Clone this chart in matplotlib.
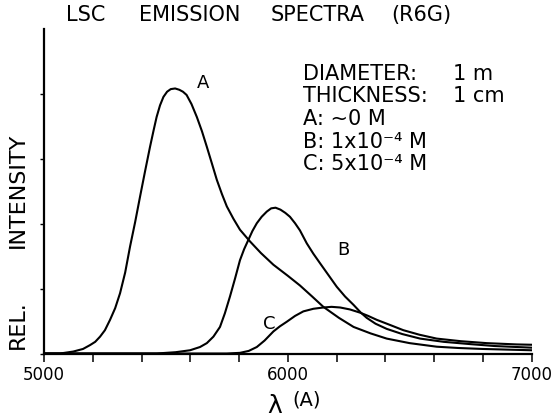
import matplotlib
matplotlib.use("Agg")
import matplotlib.pyplot as plt
from matplotlib.ticker import MultipleLocator

# wavelength (A) and relative intensity
lam_a = [5000, 5066, 5120, 5160, 5189, 5210, 5230, 5250, 5271, 5292, 5312, 5333,
         5353, 5374, 5394, 5415, 5435, 5450, 5462, 5476, 5490, 5505, 5520, 5538,
         5555, 5570, 5585, 5605, 5627, 5648, 5668, 5689, 5709, 5730, 5750, 5777,
         5804, 5845, 5890, 5941, 6000, 6050, 6100, 6146, 6210, 6270, 6340, 6406,
         6500, 6611, 6700, 6800, 6900, 7000]
int_a = [0.0, 0.0, 0.03, 0.07, 0.13, 0.18, 0.26, 0.36, 0.52, 0.70, 0.93, 1.25,
         1.65, 2.03, 2.42, 2.82, 3.19, 3.45, 3.65, 3.83, 3.96, 4.04, 4.08, 4.09,
         4.07, 4.04, 3.99, 3.85, 3.65, 3.43, 3.19, 2.93, 2.68, 2.46, 2.27, 2.08,
         1.91, 1.73, 1.55, 1.37, 1.20, 1.05, 0.88, 0.72, 0.55, 0.41, 0.31, 0.23,
         0.16, 0.105, 0.085, 0.07, 0.06, 0.05]

lam_b = [5000, 5462, 5540, 5599, 5640, 5668, 5695, 5722, 5742, 5763, 5784, 5804,
         5821, 5838, 5855, 5873, 5893, 5914, 5932, 5950, 5970, 5990, 6009, 6030,
         6050, 6078, 6105, 6133, 6167, 6201, 6235, 6270, 6300, 6324, 6360, 6406,
         6470, 6543, 6640, 6748, 6850, 6940, 7000]
int_b = [0.0, 0.0, 0.02, 0.05, 0.10, 0.16, 0.26, 0.41, 0.62, 0.88, 1.16, 1.44,
         1.61, 1.75, 1.89, 2.01, 2.11, 2.19, 2.24, 2.25, 2.22, 2.17, 2.11, 2.01,
         1.90, 1.70, 1.54, 1.39, 1.21, 1.03, 0.88, 0.75, 0.63, 0.55, 0.46, 0.38,
         0.30, 0.23, 0.18, 0.145, 0.115, 0.10, 0.09]

lam_c = [5000, 5750, 5804, 5840, 5873, 5905, 5941, 5968, 5996, 6030, 6064, 6105,
         6146, 6180, 6215, 6255, 6297, 6330, 6365, 6420, 6474, 6540, 6611, 6710,
         6816, 6940, 7000]
int_c = [0.0, 0.0, 0.01, 0.04, 0.10, 0.20, 0.34, 0.42, 0.49, 0.58, 0.65, 0.69,
         0.71, 0.72, 0.71, 0.68, 0.63, 0.58, 0.52, 0.44, 0.36, 0.29, 0.23, 0.19,
         0.16, 0.14, 0.135]

x_ticks = [5000, 6000, 7000]
x_labels = ["5000", "6000", "7000"]
y_ticks = [0, 1, 2, 3, 4]

W, H = 556, 417


def fx(px):
    return px / W


def fy(py):
    return 1 - py / H


fig = plt.figure(figsize=(W / 100, H / 100), dpi=100)
ax = fig.add_axes([fx(44), fy(353.5), (531.5 - 44) / W, (353.5 - 29.5) / H])

for lam, inten in [(lam_a, int_a), (lam_b, int_b), (lam_c, int_c)]:
    ax.plot(lam, inten, color="black", lw=1.5, solid_joinstyle="round")

ax.set_xlim(5000, 7000)
ax.set_ylim(0, 5)
ax.spines["top"].set_visible(False)
ax.spines["right"].set_visible(False)
ax.spines["left"].set_linewidth(1.6)
ax.spines["bottom"].set_linewidth(1.6)

ax.set_xticks(x_ticks)
ax.set_xticklabels(x_labels, fontsize=12)
ax.xaxis.set_minor_locator(MultipleLocator(200))
ax.tick_params(axis="x", which="both", direction="out", length=6, width=1.1, pad=3)
ax.set_yticks(y_ticks)
ax.set_yticklabels([])
ax.tick_params(axis="y", direction="out", length=3, width=1)

# curve labels
ax.text(5652, 4.17, "A", fontsize=13, ha="center", va="center")
ax.text(6227, 1.60, "B", fontsize=13, ha="center", va="center")
ax.text(5923, 0.46, "C", fontsize=13, ha="center", va="center")

# title, laid out word by word like the lettering
for word, px in [("LSC", 66), ("EMISSION", 139), ("SPECTRA", 271), ("(R6G)", 391)]:
    fig.text(fx(px), fy(21), word, fontsize=15, va="baseline")

# y label
fig.text(fx(17.5), fy(325), "REL.", fontsize=16, rotation=90, ha="center", va="center")
fig.text(fx(17.5), fy(190), "INTENSITY", fontsize=16, rotation=90, ha="center", va="center")

# x label
fig.text(fx(267), fy(413), "\u03bb", fontsize=18, va="baseline")
fig.text(fx(292), fy(405), "(A)", fontsize=14, va="baseline")

# parameter block
fig.text(fx(303), fy(80), "DIAMETER:", fontsize=15, va="baseline")
fig.text(fx(453), fy(80), "1 m", fontsize=15, va="baseline")
fig.text(fx(303), fy(102.5), "THICKNESS:", fontsize=15, va="baseline")
fig.text(fx(453), fy(102.5), "1 cm", fontsize=15, va="baseline")
fig.text(fx(303), fy(125), "A: ~0 M", fontsize=15, va="baseline")
fig.text(fx(303), fy(147.5), "B: 1x10\u207b\u2074 M", fontsize=15, va="baseline")
fig.text(fx(303), fy(170), "C: 5x10\u207b\u2074 M", fontsize=15, va="baseline")

fig.savefig("out.png", dpi=100)
